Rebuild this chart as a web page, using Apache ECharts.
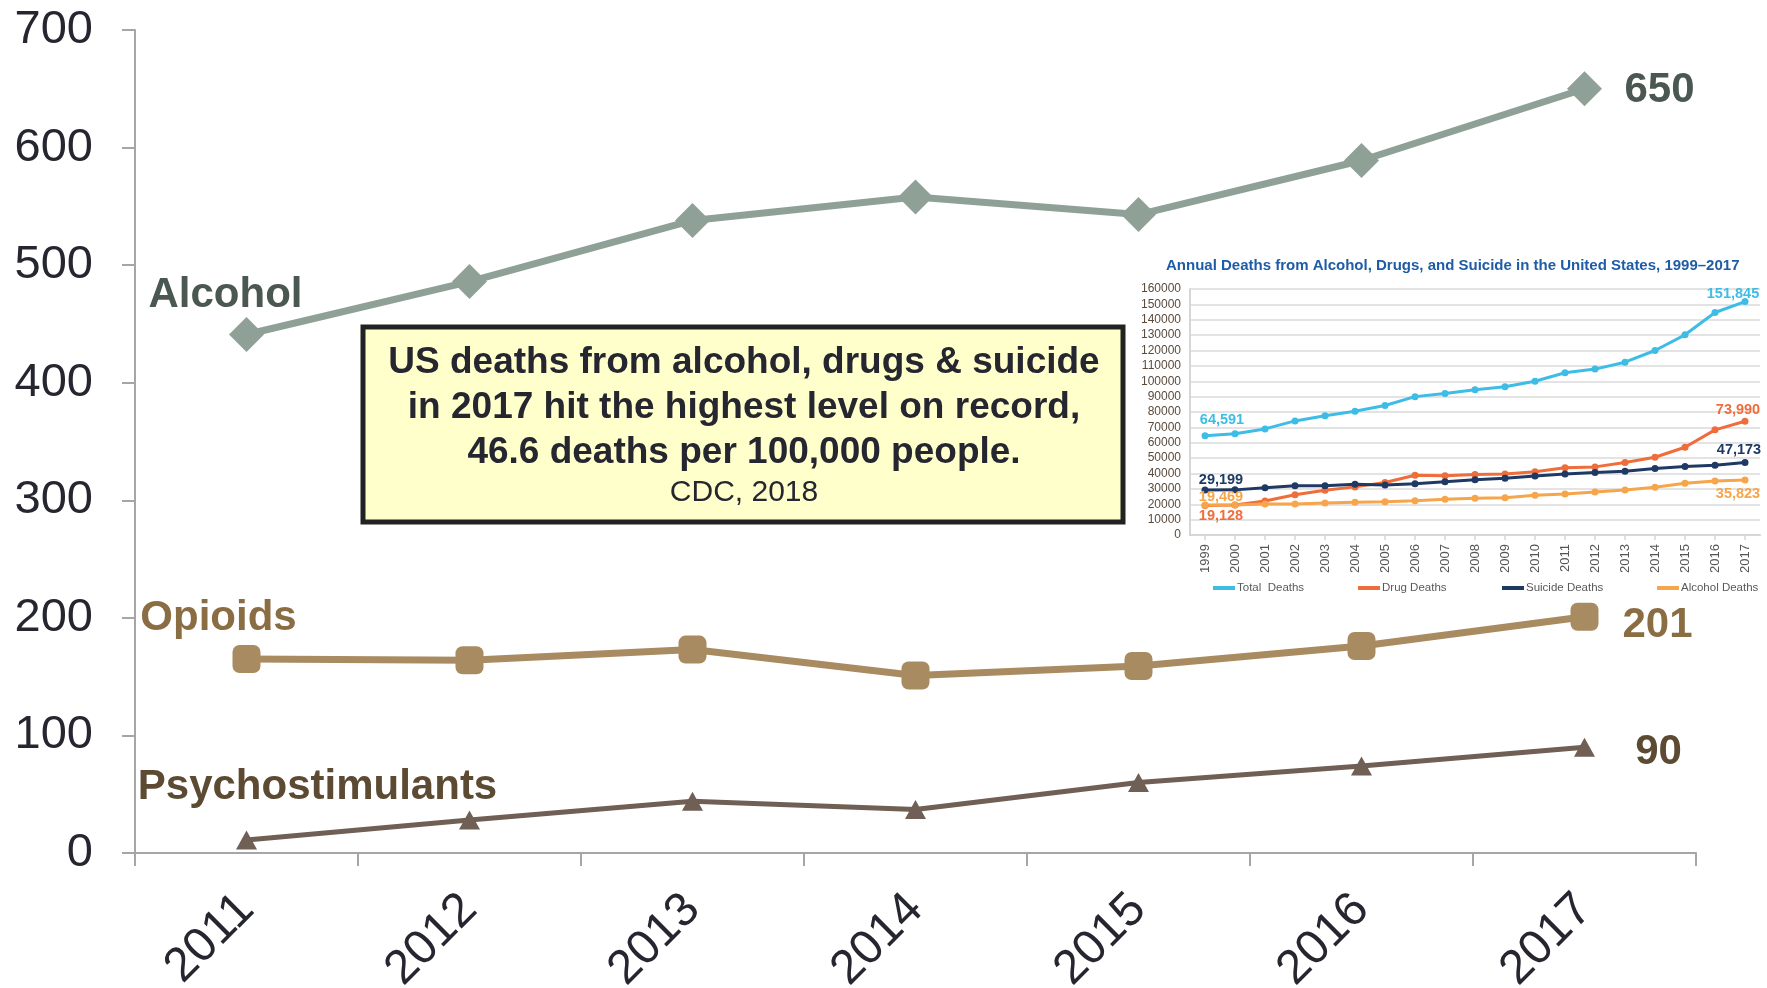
<!DOCTYPE html>
<html>
<head>
<meta charset="utf-8">
<script src="https://cdn.jsdelivr.net/npm/echarts@6/dist/echarts.min.js"></script>
<style>
html,body{margin:0;padding:0;background:#fff;}
#c{width:1767px;height:988px;}
</style>
</head>
<body>
<div id="c"></div>
<script>
// ---- main chart data (deaths) ----
const years = ['2011','2012','2013','2014','2015','2016','2017'];
const alcohol = [441, 486, 538, 558, 543, 589, 650];
const opioids = [165, 164, 173, 151, 159, 176, 201];
const psychostimulants = [11, 28, 44, 37, 60, 74, 90];
const mainTicks = [0, 100, 200, 300, 400, 500, 600, 700];

// ---- inset chart data ----
const insetYears = ['1999','2000','2001','2002','2003','2004','2005','2006','2007','2008','2009','2010','2011','2012','2013','2014','2015','2016','2017'];
const totalDeaths = [64591, 65900, 69000, 74200, 77500, 80500, 84200, 90000, 92000, 94400, 96400, 100000, 105500, 107900, 112400, 120000, 130200, 144700, 151845];
const drugDeaths = [19128, 19500, 22100, 26200, 29100, 31300, 34100, 38900, 38600, 39300, 39700, 41200, 43800, 44300, 47100, 50600, 57100, 68400, 73990];
const suicideDeaths = [29199, 29350, 30800, 32100, 32100, 33000, 32600, 33300, 34700, 36000, 36900, 38400, 39700, 40600, 41500, 43200, 44500, 45400, 47173];
const alcoholDeaths = [19469, 19500, 20200, 20200, 20800, 21300, 21700, 22300, 23200, 23900, 24300, 25800, 26700, 28000, 29300, 31100, 33700, 35200, 35823];

const FONT = '"Liberation Sans", Arial, sans-serif';

function mainData(values, startName, startOffset, startColor, endOffset, endColor) {
  return values.map((v, i) => {
    if (i === 0) {
      return {value: v, label: {show: true, position: 'inside', formatter: startName, offset: startOffset,
        color: startColor, fontSize: 42, fontWeight: 'bold', fontFamily: FONT}};
    }
    if (i === values.length - 1) {
      return {value: v, label: {show: true, position: 'inside', formatter: String(v), offset: endOffset,
        color: endColor, fontSize: 42, fontWeight: 'bold', fontFamily: FONT}};
    }
    return v;
  });
}

function insetData(values, color, startOffset, endOffset) {
  return values.map((v, i) => {
    if (i === 0 || i === values.length - 1) {
      return {value: v, label: {show: true, position: 'inside', offset: i === 0 ? startOffset : endOffset,
        formatter: v.toLocaleString('en-US'), color: color, fontSize: 14.5, fontWeight: 'bold', fontFamily: FONT}};
    }
    return v;
  });
}

const chart = echarts.init(document.getElementById('c'), null, {renderer: 'canvas'});

const axisGray = '#a6a6a6';
const insetGray = '#d6d6d6';

function insetLegend(name, left) {
  return {
    data: [{name: name, icon: 'rect'}],
    left: left, top: 582, padding: 0,
    itemWidth: 22, itemHeight: 4, itemGap: 0,
    textStyle: {fontSize: 11.5, color: '#595959', fontFamily: FONT, padding: [0, 0, 0, -3]},
    selectedMode: false
  };
}

const option = {
  animation: false,
  backgroundColor: '#ffffff',
  title: {
    text: 'Annual Deaths from Alcohol, Drugs, and Suicide in the United States, 1999–2017',
    left: 1166, top: 258, padding: 0,
    textStyle: {fontSize: 15, fontWeight: 'bold', color: '#1f5ca6', fontFamily: FONT}
  },
  legend: [
    insetLegend('Total  Deaths', 1213),
    insetLegend('Drug Deaths', 1358),
    insetLegend('Suicide Deaths', 1502),
    insetLegend('Alcohol Deaths', 1657)
  ],
  grid: [
    {left: 135, right: 71, top: 30, bottom: 135, containLabel: false, outerBoundsMode: 'none'},
    {left: 1190, top: 289, width: 570, height: 246, containLabel: false, outerBoundsMode: 'none'}
  ],
  xAxis: [
    {
      type: 'category', gridIndex: 0, data: years, boundaryGap: true,
      axisLine: {lineStyle: {color: axisGray, width: 2}},
      axisTick: {show: true, length: 13, lineStyle: {color: axisGray, width: 2}},
      axisLabel: {rotate: 45, fontSize: 48, color: '#262630', fontFamily: FONT, margin: 49}
    },
    {
      type: 'category', gridIndex: 1, data: insetYears, boundaryGap: true,
      axisLine: {lineStyle: {color: insetGray, width: 2}},
      axisTick: {show: true, alignWithLabel: true, length: 5, lineStyle: {color: insetGray, width: 1.5}},
      axisLabel: {rotate: 90, fontSize: 13, color: '#555555', fontFamily: FONT, margin: 9, interval: 0}
    }
  ],
  yAxis: [
    {
      type: 'value', gridIndex: 0, min: mainTicks[0], max: mainTicks[mainTicks.length - 1], interval: 100,
      axisLine: {show: true, lineStyle: {color: axisGray, width: 2}},
      axisTick: {show: true, length: 13, lineStyle: {color: axisGray, width: 2}},
      splitLine: {show: false},
      axisLabel: {fontSize: 47, color: '#262630', fontFamily: FONT, margin: 42}
    },
    {
      type: 'value', gridIndex: 1, min: 0, max: 160000, interval: 10000,
      axisLine: {show: true, lineStyle: {color: insetGray, width: 2}},
      axisTick: {show: false},
      splitLine: {show: true, lineStyle: {color: '#dadada', width: 1.5}},
      axisLabel: {fontSize: 12, color: '#5a4a3c', fontFamily: FONT, margin: 9,
        padding: [8, 0, 0, 0], formatter: function (v) { return String(v); }}
    }
  ],
  graphic: [
    {type: 'rect', shape: {x: 363, y: 327, width: 760, height: 195},
     style: {fill: '#ffffcc', stroke: '#222222', lineWidth: 5}, z: 10},
    {type: 'text', x: 744, y: 363, z: 11,
     style: {text: 'US deaths from alcohol, drugs & suicide', font: 'bold 37px ' + FONT, fill: '#262630', align: 'center', verticalAlign: 'middle'}},
    {type: 'text', x: 744, y: 408, z: 11,
     style: {text: 'in 2017 hit the highest level on record,', font: 'bold 37px ' + FONT, fill: '#262630', align: 'center', verticalAlign: 'middle'}},
    {type: 'text', x: 744, y: 453, z: 11,
     style: {text: '46.6 deaths per 100,000 people.', font: 'bold 37px ' + FONT, fill: '#262630', align: 'center', verticalAlign: 'middle'}},
    {type: 'text', x: 744, y: 493, z: 11,
     style: {text: 'CDC, 2018', font: '30px ' + FONT, fill: '#262630', align: 'center', verticalAlign: 'middle'}}
  ],
  series: [
    {
      name: 'Alcohol', type: 'line', xAxisIndex: 0, yAxisIndex: 0,
      data: mainData(alcohol, 'Alcohol', [-21, -39], '#4b5751', [75, 2], '#4b5751'),
      symbol: 'diamond', symbolSize: 35,
      lineStyle: {color: '#8fa197', width: 7},
      itemStyle: {color: '#8fa197'}
    },
    {
      name: 'Opioids', type: 'line', xAxisIndex: 0, yAxisIndex: 0,
      data: mainData(opioids, 'Opioids', [-28, -41], '#8b6d44', [73, 9], '#8b6d44'),
      symbol: 'roundRect', symbolSize: 28,
      lineStyle: {color: '#a98b62', width: 7},
      itemStyle: {color: '#a98b62'}
    },
    {
      name: 'Psychostimulants', type: 'line', xAxisIndex: 0, yAxisIndex: 0,
      data: mainData(psychostimulants, 'Psychostimulants', [71, -53], '#5c4a33', [74, 5], '#5c4a33'),
      symbol: 'triangle', symbolSize: [21, 19],
      lineStyle: {color: '#6f5f55', width: 5},
      itemStyle: {color: '#6f5f55'}
    },
    {
      name: 'Total  Deaths', type: 'line', xAxisIndex: 1, yAxisIndex: 1,
      data: insetData(totalDeaths, '#3dbde6', [17, -16], [-12, -8]),
      symbol: 'circle', symbolSize: 7,
      lineStyle: {color: '#3dbde6', width: 3}, itemStyle: {color: '#3dbde6'}
    },
    {
      name: 'Drug Deaths', type: 'line', xAxisIndex: 1, yAxisIndex: 1,
      data: insetData(drugDeaths, '#ef6d3a', [16, 10], [-7, -11]),
      symbol: 'circle', symbolSize: 7,
      lineStyle: {color: '#ef6d3a', width: 3}, itemStyle: {color: '#ef6d3a'}
    },
    {
      name: 'Suicide Deaths', type: 'line', xAxisIndex: 1, yAxisIndex: 1,
      data: insetData(suicideDeaths, '#1e3a64', [16, -10], [-6, -12]),
      symbol: 'circle', symbolSize: 7,
      lineStyle: {color: '#1e3a64', width: 3}, itemStyle: {color: '#1e3a64'}
    },
    {
      name: 'Alcohol Deaths', type: 'line', xAxisIndex: 1, yAxisIndex: 1,
      data: insetData(alcoholDeaths, '#f7a54a', [16, -8], [-7, 14]),
      symbol: 'circle', symbolSize: 7,
      lineStyle: {color: '#f7a54a', width: 3}, itemStyle: {color: '#f7a54a'}
    }
  ]
};

chart.setOption(option);
</script>
</body>
</html>
